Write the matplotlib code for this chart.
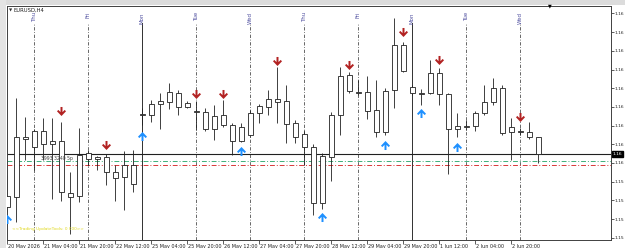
import matplotlib
matplotlib.use("Agg")
import matplotlib.pyplot as plt
from matplotlib.path import Path
from matplotlib.patches import Rectangle
import matplotlib.transforms as mtransforms

# ---------------- data ----------------
symbol = "EURUSD,H4"
opens = [1.15815, 1.15868, 1.16189, 1.16136, 1.16221, 1.16152, 1.16168, 1.15890, 1.15874, 1.16104,
         1.16071, 1.16082, 1.16002, 1.15975, 1.15938, 1.16312, 1.16307, 1.16366, 1.16376, 1.16424,
         1.16350, 1.16328, 1.16323, 1.16232, 1.16307, 1.16253, 1.16168, 1.16200, 1.16318, 1.16350,
         1.16392, 1.16382, 1.16264, 1.16205, 1.16136, 1.15836, 1.16082, 1.16307, 1.16521, 1.16430,
         1.16430, 1.16334, 1.16216, 1.16440, 1.16681, 1.16456, 1.16424, 1.16424, 1.16531, 1.16419,
         1.16232, 1.16243, 1.16248, 1.16318, 1.16376, 1.16451, 1.16216, 1.16221, 1.16216, 1.16189]
highs = [1.15986, 1.16398, 1.16296, 1.16232, 1.16291, 1.16291, 1.16269, 1.16002, 1.16237, 1.16120,
         1.16087, 1.16098, 1.16039, 1.16114, 1.16120, 1.16344, 1.16387, 1.16424, 1.16478, 1.16440,
         1.16382, 1.16382, 1.16344, 1.16360, 1.16387, 1.16264, 1.16264, 1.16334, 1.16366, 1.16440,
         1.16563, 1.16467, 1.16280, 1.16227, 1.16152, 1.16104, 1.16323, 1.16563, 1.16537, 1.16494,
         1.16515, 1.16494, 1.16451, 1.16825, 1.16697, 1.16467, 1.16446, 1.16601, 1.16558, 1.16424,
         1.16318, 1.16280, 1.16328, 1.16467, 1.16505, 1.16467, 1.16291, 1.16237, 1.16269, 1.16189]
lows = [1.15788, 1.15734, 1.16066, 1.16012, 1.16066, 1.15858, 1.15847, 1.15670, 1.15842, 1.16034,
        1.16012, 1.15932, 1.15847, 1.15799, 1.15895, 1.16253, 1.16269, 1.16232, 1.16339, 1.16307,
        1.16344, 1.16227, 1.16221, 1.16173, 1.16243, 1.16093, 1.16162, 1.16189, 1.16264, 1.16307,
        1.16264, 1.16157, 1.16157, 1.16039, 1.15772, 1.15804, 1.15954, 1.16200, 1.16424, 1.16414,
        1.16286, 1.16189, 1.16200, 1.16344, 1.16537, 1.16414, 1.16360, 1.16419, 1.16360, 1.15991,
        1.16189, 1.16227, 1.16221, 1.16307, 1.16360, 1.16200, 1.16066, 1.16200, 1.16178, 1.16050]
closes = [1.15874, 1.16189, 1.16178, 1.16221, 1.16152, 1.16168, 1.15895, 1.15868, 1.16093, 1.16071,
          1.16082, 1.16002, 1.15970, 1.16039, 1.16039, 1.16307, 1.16366, 1.16382, 1.16430, 1.16350,
          1.16371, 1.16323, 1.16232, 1.16302, 1.16253, 1.16168, 1.16243, 1.16318, 1.16355, 1.16392,
          1.16376, 1.16259, 1.16189, 1.16136, 1.15836, 1.16087, 1.16307, 1.16515, 1.16435, 1.16424,
          1.16328, 1.16216, 1.16435, 1.16681, 1.16542, 1.16424, 1.16419, 1.16531, 1.16419, 1.16232,
          1.16248, 1.16248, 1.16318, 1.16376, 1.16451, 1.16211, 1.16243, 1.16216, 1.16189, 1.16098]

# x-axis labels (bar index of each label)
time_tick_bars = [0, 4, 8, 12, 16, 20, 24, 28, 32, 36, 40, 44, 48, 52, 56]
time_tick_labels = ["20 May 2026", "21 May 04:00", "21 May 20:00", "22 May 12:00", "25 May 04:00",
                    "25 May 20:00", "26 May 12:00", "27 May 04:00", "27 May 20:00", "28 May 12:00",
                    "29 May 04:00", "29 May 20:00", "1 Jun 12:00", "2 Jun 04:00", "2 Jun 20:00"]

# day separators (bar index of first bar of each day)
day_bars = [3, 9, 15, 21, 27, 33, 39, 45, 51, 57]
day_names = ["Thu", "Fri", "Mon", "Tue", "Wed", "Thu", "Fri", "Mon", "Tue", "Wed"]

# price axis (labels as visible in the narrow price scale)
price_ticks = [1.1565, 1.1575, 1.1585, 1.1595, 1.1605, 1.1615, 1.1625, 1.1635, 1.1645,
               1.1655, 1.1665, 1.1675, 1.1685]
price_tick_labels = ["1.15", "1.15", "1.15", "1.15", "1.16", "1.16", "1.16", "1.16", "1.16",
                     "1.16", "1.16", "1.16", "1.16"]
current_price = 1.16098
current_price_label = "1.16"
level_green = 1.16061
level_red = 1.16039

# signal arrows
sell_bars = [6, 11, 21, 24, 30, 38, 44, 48, 57]
sell_prices = [1.16328, 1.16146, 1.16419, 1.16419, 1.16595, 1.16574, 1.16750, 1.16601, 1.16296]
buy_bars = [0, 15, 26, 35, 42, 46, 50]
buy_prices = [1.15750, 1.16194, 1.16114, 1.15761, 1.16146, 1.16318, 1.16136]

info_text = "3993 3240 5p"
footer_text = "<<Trading UpdateTools: 0 000>>"

# ---------------- figure ----------------
W, H = 625, 248
fig = plt.figure(figsize=(W / 100, H / 100), dpi=100)
fig.patch.set_facecolor("white")

# window frame pieces
fig.patches.append(Rectangle((0, 1 - 5 / H), 1, 5 / H, transform=fig.transFigure,
                             facecolor="#dcdcdc", edgecolor="none", zorder=0))
fig.patches.append(Rectangle((0, 0), 6 / W, 1, transform=fig.transFigure,
                             facecolor="#e4e4e4", edgecolor="none", zorder=0))

ax = fig.add_axes([7 / W, 8 / H, (611 - 7) / W, (240 - 6) / H])
ax.set_facecolor("white")
n = len(opens)
ax.set_xlim(-0.05, (611 - 7) / 9 - 0.05)
ax.set_ylim(1.156382, 1.168896)

for s in ax.spines.values():
    s.set_color("#404040")
    s.set_linewidth(0.7)

# day separator lines
blend = mtransforms.blended_transform_factory(ax.transData, ax.transAxes)
top_frac = (240 - 23) / 234
for b, name in zip(day_bars, day_names):
    if name == "Mon":
        ax.plot([b, b], [0, top_frac], transform=blend, color="#303030", lw=0.7, zorder=1)
    else:
        ax.plot([b, b], [0, top_frac], transform=blend, color="#505050", lw=0.6,
                linestyle=(0, (4, 2, 1, 2)), zorder=1)
    ax.text(b, 1 - 6 / 234, name, transform=blend, rotation=90, ha="center", va="top",
            fontsize=4.0, color="#5050a0", zorder=5)

# horizontal lines
ax.axhline(current_price, color="#202020", lw=0.8, zorder=1)
ax.axhline(level_green, color="#3fb07a", lw=0.7, linestyle=(0, (5, 2, 1, 2)), zorder=1)
ax.axhline(level_red, color="#d83838", lw=0.7, linestyle=(0, (5, 2, 1, 2)), zorder=1)

# candles
xs = list(range(n))
ax.vlines(xs, lows, highs, color="#202020", lw=0.6, zorder=2)
bottoms = [min(o, c) for o, c in zip(opens, closes)]
heights = [abs(c - o) for o, c in zip(opens, closes)]
ax.bar(xs, heights, bottom=bottoms, width=0.62, facecolor="white", edgecolor="#202020",
       linewidth=0.6, zorder=3)

# arrow markers
down_verts = [(-0.22, 1), (0.22, 1), (0.22, -0.13), (0.7, 0.35), (1, 0.05), (0, -1),
              (-1, 0.05), (-0.7, 0.35), (-0.22, -0.13), (-0.22, 1)]
down_path = Path(down_verts, closed=True)
up_path = Path([(x, -y) for x, y in down_verts], closed=True)
ax.plot(sell_bars, sell_prices, linestyle="none", marker=down_path, markersize=6.5,
        color="#b22222", markeredgewidth=0, zorder=4)
ax.plot(buy_bars, buy_prices, linestyle="none", marker=up_path, markersize=6.5,
        color="#1e90ff", markeredgewidth=0, zorder=4, clip_on=True)

# x ticks
ax.set_xticks(time_tick_bars)
ax.set_xticklabels(time_tick_labels, fontsize=3.5, ha="left", va="center", color="#202020")
ax.tick_params(axis="x", length=3, width=0.6, color="#404040", pad=0)
offset = mtransforms.ScaledTranslation(1 / 100, -2 / 100, fig.dpi_scale_trans)
for lab in ax.get_xticklabels():
    lab.set_transform(lab.get_transform() + offset)

# y ticks on right
ax.yaxis.tick_right()
ax.set_yticks(price_ticks)
ax.set_yticklabels(price_tick_labels, fontsize=3.2, color="#202020")
ax.tick_params(axis="y", length=2, width=0.6, color="#404040", pad=0.3)

# current price box
ax.annotate(current_price_label, xy=(1, current_price), xycoords=("axes fraction", "data"),
            xytext=(1.0, 0), textcoords="offset points", ha="left", va="center",
            fontsize=3.2, color="white",
            bbox=dict(boxstyle="square,pad=0.2", facecolor="black", edgecolor="black"),
            annotation_clip=False, zorder=6)

# texts
fig.text(9 / W, 1 - 10 / H, "\u25bc", fontsize=3, color="#303030", va="center", ha="left")
fig.text(14 / W, 1 - 10 / H, symbol, fontsize=3.8, color="#202020", va="center", ha="left")
ax.text(5.5, 1.16072, info_text, fontsize=3.3, color="#404040", ha="center", va="center", zorder=5)
ax.text(0.5, 1.15695, footer_text, fontsize=3.1, color="#e0d820", ha="left", va="center", zorder=5)

# chart shift marker
fig.text(550 / W, 1 - 6 / H, "\u25bc", fontsize=3.5, color="black", ha="center", va="center")

fig.savefig("out.png", dpi=100, facecolor=fig.get_facecolor())
